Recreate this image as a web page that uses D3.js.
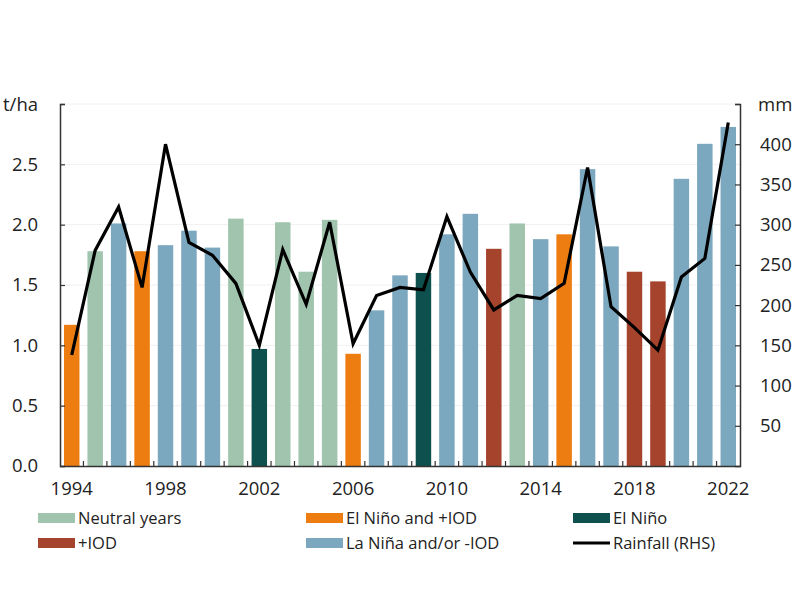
<!DOCTYPE html>
<html><head><meta charset="utf-8">
<script src="https://cdn.jsdelivr.net/npm/d3@7"></script>
<style>body{margin:0;background:#fff;font-family:"Open Sans","Noto Sans",sans-serif;}</style>
</head><body><svg id="c" width="800" height="600"></svg>
<script>
const years = d3.range(1994, 2023);
const yields = [1.17,1.78,2.01,1.78,1.83,1.95,1.81,2.05,0.97,2.02,1.61,2.04,0.93,1.29,1.58,1.60,1.92,2.09,1.80,2.01,1.88,1.92,2.46,1.82,1.61,1.53,2.38,2.67,2.81];
const phases = ["EN+IOD","N","LN","EN+IOD","LN","LN","LN","N","EN","N","N","N","EN+IOD","LN","LN","EN","LN","LN","IOD","N","LN","EN+IOD","LN","LN","IOD","IOD","LN","LN","LN"];
const rainfall = [138,268,322,222,400,278,262,227,150,269,201,303,152,212,222,219,310,241,194,212,208,227,371,198,172,144,235,258,427];
const leftTicks = [0,0.5,1.0,1.5,2.0,2.5];
const rightTicks = [50,100,150,200,250,300,350,400];
const xLabels = [1994,1998,2002,2006,2010,2014,2018,2022];
const legendItems = [
  {key:"N", label:"Neutral years"},
  {key:"EN+IOD", label:"El Niño and +IOD"},
  {key:"EN", label:"El Niño"},
  {key:"IOD", label:"+IOD"},
  {key:"LN", label:"La Niña and/or -IOD"},
  {key:"rain", label:"Rainfall (RHS)"}
];
const colors = {"N":"#a0c4ae","EN+IOD":"#ee7d11","EN":"#0e504d","IOD":"#a5432d","LN":"#7ca8bf"};

const svg = d3.select("#c");
const L = 60, R = 740, T = 104, B = 466;
const FS = "18.5px";
const x = d3.scaleBand().domain(years).range([L, R]).paddingInner(0.34).paddingOuter(0.17);
const yL = d3.scaleLinear().domain([0,3]).range([B,T]);
const yR = d3.scaleLinear().domain([0,450]).range([B,T]);

// gridlines
svg.append("g").selectAll("line").data([0.5,1,1.5,2,2.5,3]).join("line")
  .attr("x1",L).attr("x2",R).attr("y1",d=>yL(d)).attr("y2",d=>yL(d))
  .attr("stroke","#f0f0f0").attr("stroke-width",1);

// bars
svg.append("g").selectAll("rect").data(years).join("rect")
  .attr("x",(d)=>x(d)).attr("width",x.bandwidth())
  .attr("y",(d,i)=>yL(yields[i])).attr("height",(d,i)=>B-yL(yields[i]))
  .attr("fill",(d,i)=>colors[phases[i]]);

// axes
const axisColor = "#333";
const gl = svg.append("g").attr("transform",`translate(${L},0)`)
  .call(d3.axisLeft(yL).tickValues(leftTicks.concat([3])).tickSize(-5).tickPadding(22).tickFormat(d=>d===3?"":d3.format(".1f")(d)));
const gr = svg.append("g").attr("transform",`translate(${R},0)`)
  .call(d3.axisRight(yR).tickValues(rightTicks.concat([450])).tickSize(-5).tickPadding(20).tickFormat(d=>d===450?"":d));
const gb = svg.append("g").attr("transform",`translate(0,${B})`)
  .call(d3.axisBottom(x).tickValues([]).tickSize(0));
[gl,gr,gb].forEach(g=>{
  g.select(".domain").attr("stroke",axisColor).attr("stroke-width",1.5);
  g.selectAll(".tick line").attr("stroke",axisColor).attr("stroke-width",1.2);
  g.selectAll("text").attr("fill","#222").style("font-size",FS).style("font-family","'Open Sans','Noto Sans',sans-serif");
});
// bottom boundary ticks between bands
svg.append("g").selectAll("line").data(d3.range(1, years.length)).join("line")
  .attr("x1",i=>L+i*(R-L)/years.length).attr("x2",i=>L+i*(R-L)/years.length)
  .attr("y1",B).attr("y2",B-5).attr("stroke",axisColor).attr("stroke-width",1.2);
// x labels
svg.append("g").selectAll("text").data(xLabels).join("text")
  .attr("x",d=>x(d)+x.bandwidth()/2).attr("y",B+29).attr("text-anchor","middle")
  .attr("fill","#222").style("font-size",FS).text(d=>d);

// unit labels
svg.append("text").attr("x",3).attr("y",yL(3)+7).attr("fill","#222").style("font-size",FS).text("t/ha");
svg.append("text").attr("x",758).attr("y",yR(450)+7).attr("fill","#222").style("font-size",FS).text("mm");

// rainfall line
const line = d3.line().x((d,i)=>x(years[i])+x.bandwidth()/2).y(d=>yR(d));
svg.append("path").datum(rainfall).attr("d",line).attr("fill","none")
  .attr("stroke","#000").attr("stroke-width",3.2).attr("stroke-linejoin","miter");

// legend
const colX = [38,306,573], rowY = [518,543];
const lg = svg.append("g").selectAll("g").data(legendItems).join("g")
  .attr("transform",(d,i)=>`translate(${colX[i%3]},${rowY[Math.floor(i/3)]})`);
lg.each(function(d){
  const g = d3.select(this);
  if(d.key==="rain"){
    g.append("line").attr("x1",0).attr("x2",37).attr("y1",0).attr("y2",0).attr("stroke","#000").attr("stroke-width",3.2);
  } else {
    g.append("rect").attr("x",0).attr("y",-5).attr("width",37).attr("height",10).attr("fill",colors[d.key]);
  }
  g.append("text").attr("x",40).attr("y",6).attr("fill","#222").style("font-size","16.5px").text(d.label);
});
</script></body></html>
